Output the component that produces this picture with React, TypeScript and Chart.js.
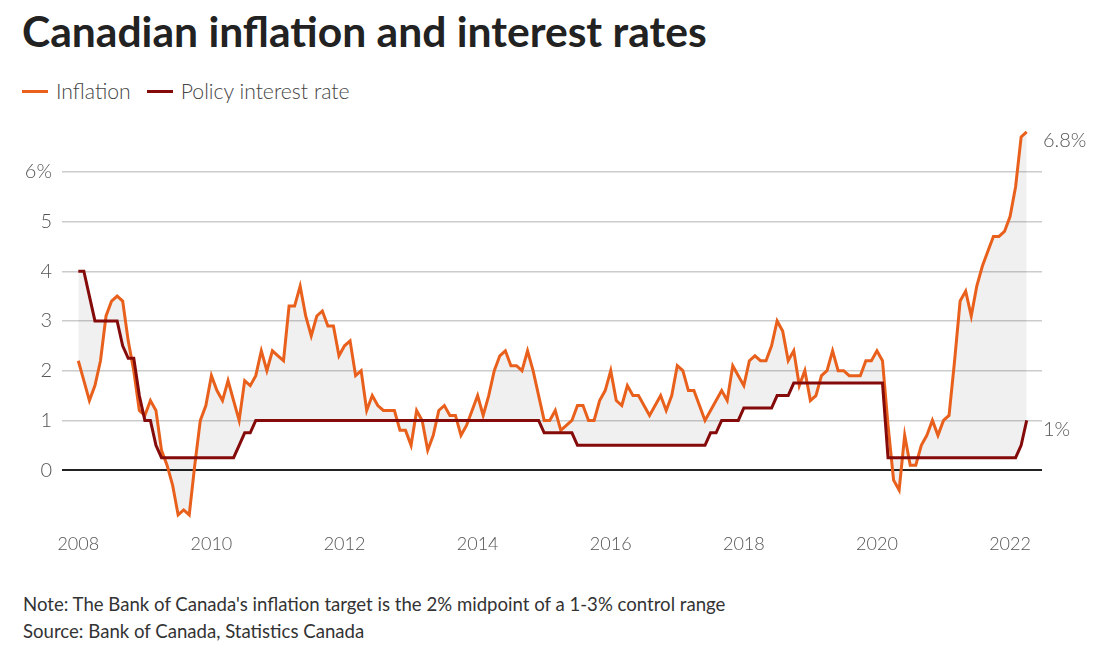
import React, { useEffect, useRef } from "react";
import { Chart, registerables } from "chart.js";

Chart.register(...registerables);

// ---- Data (monthly, Jan 2008 – Apr 2022) ----
const START_YEAR = 2008;

const inflation = [
  2.2, 1.8, 1.4, 1.7, 2.2, 3.1, 3.4, 3.5, 3.4, 2.6, 2.0, 1.2, // 2008
  1.1, 1.4, 1.2, 0.4, 0.1, -0.3, -0.9, -0.8, -0.9, 0.1, 1.0, 1.3, // 2009
  1.9, 1.6, 1.4, 1.8, 1.4, 1.0, 1.8, 1.7, 1.9, 2.4, 2.0, 2.4, // 2010
  2.3, 2.2, 3.3, 3.3, 3.7, 3.1, 2.7, 3.1, 3.2, 2.9, 2.9, 2.3, // 2011
  2.5, 2.6, 1.9, 2.0, 1.2, 1.5, 1.3, 1.2, 1.2, 1.2, 0.8, 0.8, // 2012
  0.5, 1.2, 1.0, 0.4, 0.7, 1.2, 1.3, 1.1, 1.1, 0.7, 0.9, 1.2, // 2013
  1.5, 1.1, 1.5, 2.0, 2.3, 2.4, 2.1, 2.1, 2.0, 2.4, 2.0, 1.5, // 2014
  1.0, 1.0, 1.2, 0.8, 0.9, 1.0, 1.3, 1.3, 1.0, 1.0, 1.4, 1.6, // 2015
  2.0, 1.4, 1.3, 1.7, 1.5, 1.5, 1.3, 1.1, 1.3, 1.5, 1.2, 1.5, // 2016
  2.1, 2.0, 1.6, 1.6, 1.3, 1.0, 1.2, 1.4, 1.6, 1.4, 2.1, 1.9, // 2017
  1.7, 2.2, 2.3, 2.2, 2.2, 2.5, 3.0, 2.8, 2.2, 2.4, 1.7, 2.0, // 2018
  1.4, 1.5, 1.9, 2.0, 2.4, 2.0, 2.0, 1.9, 1.9, 1.9, 2.2, 2.2, // 2019
  2.4, 2.2, 0.9, -0.2, -0.4, 0.7, 0.1, 0.1, 0.5, 0.7, 1.0, 0.7, // 2020
  1.0, 1.1, 2.2, 3.4, 3.6, 3.1, 3.7, 4.1, 4.4, 4.7, 4.7, 4.8, // 2021
  5.1, 5.7, 6.7, 6.8, // 2022
];

const policyRate = [
  4.0, 4.0, 3.5, 3.0, 3.0, 3.0, 3.0, 3.0, 2.5, 2.25, 2.25, 1.5, // 2008
  1.0, 1.0, 0.5, 0.25, 0.25, 0.25, 0.25, 0.25, 0.25, 0.25, 0.25, 0.25, // 2009
  0.25, 0.25, 0.25, 0.25, 0.25, 0.5, 0.75, 0.75, 1.0, 1.0, 1.0, 1.0, // 2010
  1.0, 1.0, 1.0, 1.0, 1.0, 1.0, 1.0, 1.0, 1.0, 1.0, 1.0, 1.0, // 2011
  1.0, 1.0, 1.0, 1.0, 1.0, 1.0, 1.0, 1.0, 1.0, 1.0, 1.0, 1.0, // 2012
  1.0, 1.0, 1.0, 1.0, 1.0, 1.0, 1.0, 1.0, 1.0, 1.0, 1.0, 1.0, // 2013
  1.0, 1.0, 1.0, 1.0, 1.0, 1.0, 1.0, 1.0, 1.0, 1.0, 1.0, 1.0, // 2014
  0.75, 0.75, 0.75, 0.75, 0.75, 0.75, 0.5, 0.5, 0.5, 0.5, 0.5, 0.5, // 2015
  0.5, 0.5, 0.5, 0.5, 0.5, 0.5, 0.5, 0.5, 0.5, 0.5, 0.5, 0.5, // 2016
  0.5, 0.5, 0.5, 0.5, 0.5, 0.5, 0.75, 0.75, 1.0, 1.0, 1.0, 1.0, // 2017
  1.25, 1.25, 1.25, 1.25, 1.25, 1.25, 1.5, 1.5, 1.5, 1.75, 1.75, 1.75, // 2018
  1.75, 1.75, 1.75, 1.75, 1.75, 1.75, 1.75, 1.75, 1.75, 1.75, 1.75, 1.75, // 2019
  1.75, 1.75, 0.25, 0.25, 0.25, 0.25, 0.25, 0.25, 0.25, 0.25, 0.25, 0.25, // 2020
  0.25, 0.25, 0.25, 0.25, 0.25, 0.25, 0.25, 0.25, 0.25, 0.25, 0.25, 0.25, // 2021
  0.25, 0.25, 0.5, 1.0, // 2022
];

const seriesNames = ["Inflation", "Policy interest rate"];
const endLabels = ["6.8%", "1%"];
const xTickYears = [2008, 2010, 2012, 2014, 2016, 2018, 2020, 2022];
const yTicks = [0, 1, 2, 3, 4, 5, 6];

const TITLE = "Canadian inflation and interest rates";
const NOTE = "Note: The Bank of Canada's inflation target is the 2% midpoint of a 1-3% control range";
const SOURCE = "Source: Bank of Canada, Statistics Canada";

// ---- Styles ----
const FONT = "Lato, 'Source Sans Pro', 'Noto Sans', sans-serif";
const ORANGE = "#e8601c";
const DARKRED = "#850a0a";
const LABEL = "#555555";

const endLabelPlugin = {
  id: "endLabels",
  afterDatasetsDraw(chart: any) {
    const { ctx, chartArea } = chart;
    ctx.save();
    ctx.font = `300 20px ${FONT}`;
    ctx.fillStyle = LABEL;
    ctx.textBaseline = "middle";
    ctx.textAlign = "left";
    chart.data.datasets.forEach((_ds: any, i: number) => {
      const meta = chart.getDatasetMeta(i);
      const pt = meta.data[meta.data.length - 1];
      if (pt) ctx.fillText(endLabels[i], chartArea.right + 1, pt.y + 9);
    });
    ctx.restore();
  },
};

export default function App() {
  const ref = useRef<HTMLCanvasElement | null>(null);

  useEffect(() => {
    if (!ref.current) return;
    const chart = new Chart(ref.current, {
      type: "line",
      data: {
        datasets: [
          {
            label: seriesNames[0],
            data: inflation.map((v, i) => ({ x: i, y: v })),
            borderColor: ORANGE,
            borderWidth: 3,
            pointRadius: 0,
            tension: 0,
            fill: "+1",
            backgroundColor: "rgba(0,0,0,0.06)",
            order: 1,
          },
          {
            label: seriesNames[1],
            data: policyRate.map((v, i) => ({ x: i, y: v })),
            borderColor: DARKRED,
            borderWidth: 3,
            pointRadius: 0,
            tension: 0,
            fill: false,
            order: 0,
          },
        ],
      },
      options: {
        animation: false,
        responsive: true,
        maintainAspectRatio: false,
        layout: { padding: { top: 18.3, right: 66, bottom: 0, left: 0 } },
        plugins: { legend: { display: false }, tooltip: { enabled: false } },
        scales: {
          x: {
            type: "linear",
            min: -2.94,
            max: 173.76,
            grid: { display: false, drawTicks: false },
            border: { display: false },
            afterBuildTicks: (s: any) => {
              s.ticks = xTickYears.map((y) => ({ value: (y - START_YEAR) * 12 }));
            },
            afterFit: (s: any) => {
              s.height = 50.1;
            },
            ticks: {
              autoSkip: false,
              maxRotation: 0,
              padding: 13,
              color: LABEL,
              font: { family: FONT, size: 18, weight: "300" },
              callback: (v: any) => String(START_YEAR + Number(v) / 12),
            },
          },
          y: {
            type: "linear",
            min: -1,
            max: 7,
            afterBuildTicks: (s: any) => {
              s.ticks = yTicks.map((v) => ({ value: v }));
            },
            afterFit: (s: any) => {
              s.width = 62;
            },
            grid: {
              drawTicks: false,
              color: (c: any) => (c.tick && c.tick.value === 0 ? "#222222" : "#cccccc"),
              lineWidth: (c: any) => (c.tick && c.tick.value === 0 ? 2 : 1.4),
            },
            border: { display: false },
            ticks: {
              padding: 10,
              color: LABEL,
              font: { family: FONT, size: 20, weight: "300" },
              callback: (v: any) => (Number(v) === 6 ? "6%" : String(v)),
            },
          },
        },
      },
      plugins: [endLabelPlugin],
    } as any);
    return () => chart.destroy();
  }, []);

  const swatch = (color: string) => (
    <span style={{ display: "inline-block", width: 26, height: 3, background: color, marginRight: 8 }} />
  );

  return (
    <div style={{ position: "absolute", left: 0, top: 0, width: 1108, height: 653, background: "#fff", fontFamily: FONT }}>
      <div
        style={{
          position: "absolute",
          left: 22,
          top: 6,
          fontSize: 42.6,
          lineHeight: "50px",
          fontWeight: 700,
          color: "#222",
          whiteSpace: "nowrap",
        }}
      >
        {TITLE}
      </div>
      <div
        style={{
          position: "absolute",
          left: 22,
          top: 79,
          height: 24,
          display: "flex",
          alignItems: "center",
          fontSize: 21.2,
          fontWeight: 300,
          color: "#444",
          whiteSpace: "nowrap",
        }}
      >
        {swatch(ORANGE)}
        <span style={{ marginRight: 16 }}>{seriesNames[0]}</span>
        {swatch(DARKRED)}
        <span>{seriesNames[1]}</span>
      </div>
      <div style={{ position: "absolute", left: 0, top: 100, width: 1108, height: 470 }}>
        <canvas ref={ref} />
      </div>
      <div style={{ position: "absolute", left: 23, top: 593, fontSize: 18.6, lineHeight: "22px", color: "#333", whiteSpace: "nowrap" }}>
        {NOTE}
      </div>
      <div style={{ position: "absolute", left: 23, top: 620, fontSize: 18.6, lineHeight: "22px", color: "#333", whiteSpace: "nowrap" }}>
        {SOURCE}
      </div>
    </div>
  );
}
